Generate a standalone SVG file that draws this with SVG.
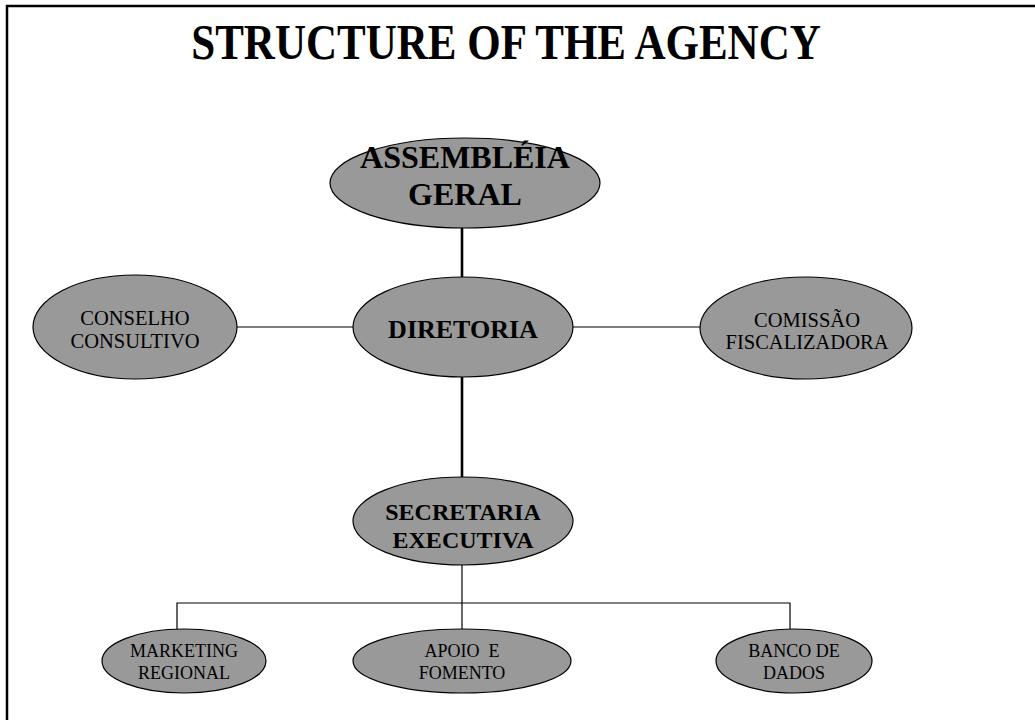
<svg xmlns="http://www.w3.org/2000/svg" width="1035" height="720" viewBox="0 0 1035 720">
<style>
.node ellipse{fill:#999999;stroke:#000;stroke-width:1.2}
.t{font-family:"Liberation Serif","Times New Roman",serif;text-anchor:middle;fill:#000}
.b{font-weight:bold}
.thick{stroke:#000;stroke-width:2.6;fill:none}
.thin{stroke:#000;stroke-width:1.2;fill:none}
</style>
<rect x="0" y="0" width="1035" height="720" fill="#fff"/>
<path d="M7,720 V6 H1035" stroke="#000" stroke-width="2.5" fill="none"/>
<text class="t b" transform="translate(506,59) scale(1,1.2)" x="0" y="0" font-size="43">STRUCTURE OF THE AGENCY</text>
<g id="connectors">
<line class="thick" x1="462" y1="226" x2="462" y2="279"/>
<line class="thick" x1="462" y1="376" x2="462" y2="479"/>
<line class="thin" x1="237" y1="327" x2="353" y2="327"/>
<line class="thin" x1="573" y1="327" x2="700" y2="327"/>
<line class="thin" x1="462" y1="565" x2="462" y2="629"/>
<path class="thin" d="M177,629 V603 H790 V629"/>
</g>
<g id="assembleia" class="node">
<ellipse cx="465" cy="183" rx="135" ry="45"/>
<text class="t b" x="465" y="168" font-size="32">ASSEMBLÉIA</text>
<text class="t b" x="465" y="205" font-size="32">GERAL</text>
</g>
<g id="diretoria" class="node">
<ellipse cx="463" cy="327" rx="110" ry="50"/>
<text class="t b" x="463" y="338" font-size="26">DIRETORIA</text>
</g>
<g id="conselho" class="node">
<ellipse cx="135" cy="327" rx="102" ry="52"/>
<text class="t" x="135" y="325" font-size="20.5">CONSELHO</text>
<text class="t" x="135" y="348" font-size="20.5">CONSULTIVO</text>
</g>
<g id="comissao" class="node">
<ellipse cx="806" cy="328" rx="106" ry="51"/>
<text class="t" x="807" y="327" font-size="20.5">COMISSÃO</text>
<text class="t" x="807" y="349" font-size="20.5">FISCALIZADORA</text>
</g>
<g id="secretaria" class="node">
<ellipse cx="463" cy="521" rx="110" ry="44"/>
<text class="t b" x="463" y="520" font-size="24">SECRETARIA</text>
<text class="t b" x="463" y="548" font-size="24">EXECUTIVA</text>
</g>
<g id="marketing" class="node">
<ellipse cx="184" cy="661" rx="82" ry="32"/>
<text class="t" x="184" y="657" font-size="18">MARKETING</text>
<text class="t" x="184" y="679" font-size="18">REGIONAL</text>
</g>
<g id="apoio" class="node">
<ellipse cx="462" cy="661" rx="109" ry="32"/>
<text class="t" x="462" y="657" font-size="18" xml:space="preserve">APOIO  E</text>
<text class="t" x="462" y="679" font-size="18">FOMENTO</text>
</g>
<g id="banco" class="node">
<ellipse cx="794" cy="661" rx="78" ry="32"/>
<text class="t" x="794" y="657" font-size="18">BANCO DE</text>
<text class="t" x="794" y="679" font-size="18">DADOS</text>
</g>
</svg>
